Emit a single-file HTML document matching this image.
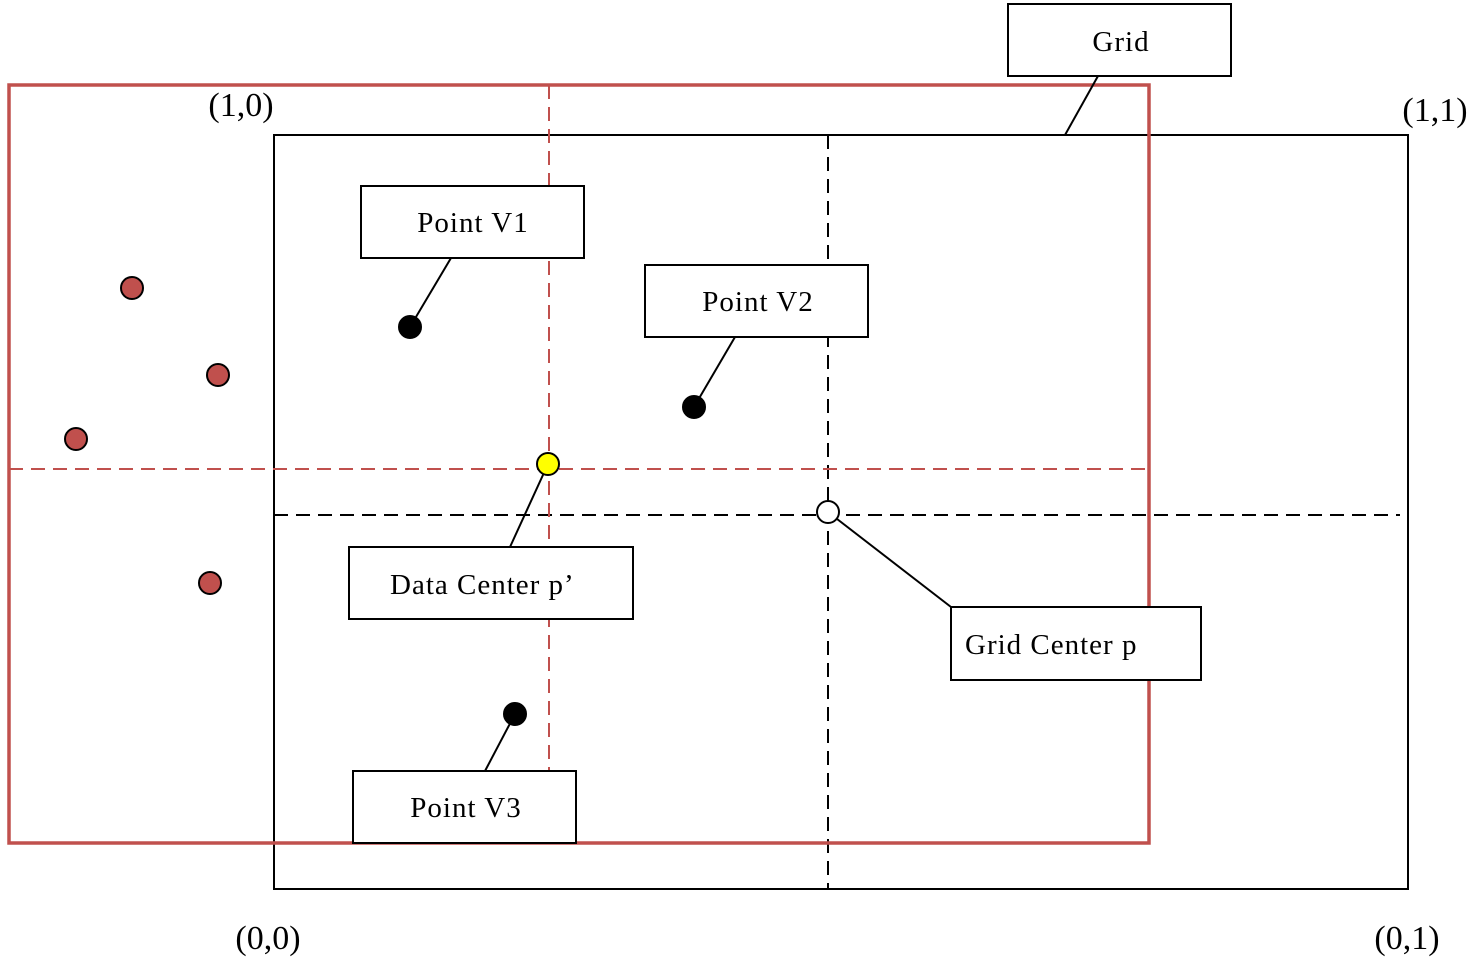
<!DOCTYPE html>
<html><head><meta charset="utf-8"><style>
html,body{margin:0;padding:0;background:#fff;}
svg{display:block;}
text{font-family:"Liberation Serif",serif;fill:#000;}
</style></head><body>
<svg width="1477" height="965" viewBox="0 0 1477 965" xmlns="http://www.w3.org/2000/svg">
<rect x="274" y="135" width="1134" height="754" fill="none" stroke="#000" stroke-width="2"/>
<line x1="828" y1="135" x2="828" y2="889" stroke="#000" stroke-width="2" stroke-dasharray="14,8"/>
<line x1="274" y1="515" x2="1400" y2="515" stroke="#000" stroke-width="2" stroke-dasharray="14,8"/>
<line x1="549" y1="85" x2="549" y2="843" stroke="#c0504d" stroke-width="2" stroke-dasharray="14,8"/>
<line x1="9" y1="469" x2="1149" y2="469" stroke="#c0504d" stroke-width="2" stroke-dasharray="14,8"/>
<rect x="9" y="85" width="1140" height="758" fill="none" stroke="#c0504d" stroke-width="3.5"/>

<g stroke="#000" stroke-width="2">
<line x1="1098" y1="76" x2="1065" y2="135"/>
<line x1="451" y1="258" x2="410" y2="327"/>
<line x1="735" y1="337" x2="694" y2="407"/>
<line x1="510" y1="547" x2="548" y2="464"/>
<line x1="951" y1="607" x2="828" y2="512"/>
<line x1="485" y1="771" x2="515" y2="714"/>
</g>

<g fill="#fff" stroke="#000" stroke-width="2">
<rect x="1008" y="4" width="223" height="72"/>
<rect x="361" y="186" width="223" height="72"/>
<rect x="645" y="265" width="223" height="72"/>
<rect x="349" y="547" width="284" height="72"/>
<rect x="951" y="607" width="250" height="73"/>
<rect x="353" y="771" width="223" height="72"/>
</g>

<g stroke="#000" stroke-width="2">
<circle cx="410" cy="327" r="11" fill="#000"/>
<circle cx="694" cy="407" r="11" fill="#000"/>
<circle cx="515" cy="714" r="11" fill="#000"/>
<circle cx="548" cy="464" r="11" fill="#ffff00"/>
<circle cx="828" cy="512" r="11" fill="#fff"/>
<circle cx="132" cy="288" r="11" fill="#c0504d"/>
<circle cx="218" cy="375" r="11" fill="#c0504d"/>
<circle cx="76" cy="439" r="11" fill="#c0504d"/>
<circle cx="210" cy="583" r="11" fill="#c0504d"/>
</g>

<g font-size="29" letter-spacing="1">
<text x="1121" y="51" text-anchor="middle">Grid</text>
<text x="473" y="232" text-anchor="middle">Point V1</text>
<text x="758" y="311" text-anchor="middle">Point V2</text>
<text x="390" y="594">Data Center p’</text>
<text x="965" y="654">Grid Center p</text>
<text x="466" y="817" text-anchor="middle">Point V3</text>
</g>
<g font-size="34">
<text x="241" y="116" text-anchor="middle">(1,0)</text>
<text x="1435" y="121" text-anchor="middle">(1,1)</text>
<text x="268" y="949" text-anchor="middle">(0,0)</text>
<text x="1407" y="949" text-anchor="middle">(0,1)</text>
</g>
</svg>
</body></html>
